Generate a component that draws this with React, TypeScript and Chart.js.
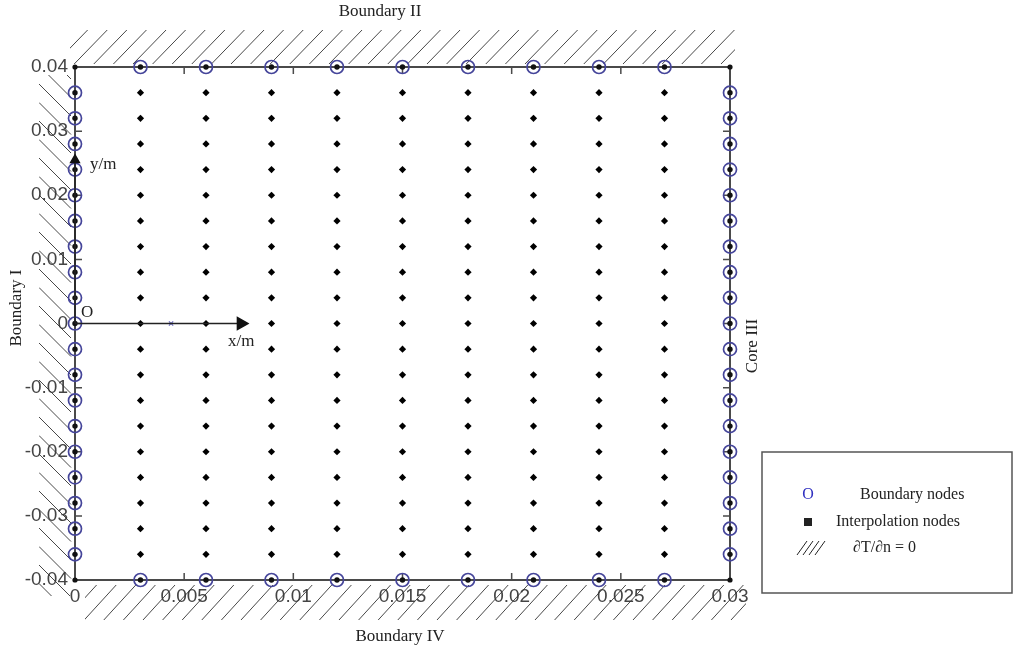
import React, { useEffect, useRef } from "react";
import { Chart, registerables } from "chart.js";

Chart.register(...registerables);

// Node coordinates (m)
const xNodes = [0, 0.003, 0.006, 0.009, 0.012, 0.015, 0.018, 0.021, 0.024, 0.027, 0.03];
const yNodes = [
  -0.04, -0.036, -0.032, -0.028, -0.024, -0.02, -0.016, -0.012, -0.008, -0.004, 0,
  0.004, 0.008, 0.012, 0.016, 0.02, 0.024, 0.028, 0.032, 0.036, 0.04,
];
const xTickValues = [0, 0.005, 0.01, 0.015, 0.02, 0.025, 0.03];
const xTickLabels = ["0", "0.005", "0.01", "0.015", "0.02", "0.025", "0.03"];
const yTickValues = [-0.04, -0.03, -0.02, -0.01, 0, 0.01, 0.02, 0.03, 0.04];
const yTickLabels = ["-0.04", "-0.03", "-0.02", "-0.01", "0", "0.01", "0.02", "0.03", "0.04"];
const crossMarker = [{ x: 0.0044, y: 0 }];
const xArrow = [{ x: 0, y: 0 }, { x: 0.0076, y: 0 }];
const yArrow = [{ x: 0, y: 0 }, { x: 0, y: 0.0255 }];

const xMin = xNodes[0];
const xMax = xNodes[xNodes.length - 1];
const yMin = yNodes[0];
const yMax = yNodes[yNodes.length - 1];

const innerX = xNodes.slice(1, -1);
const innerY = yNodes.slice(1, -1);

const interiorPts: { x: number; y: number }[] = [];
innerX.forEach((x) => innerY.forEach((y) => interiorPts.push({ x, y })));

const boundaryPts: { x: number; y: number }[] = [];
innerX.forEach((x) => {
  boundaryPts.push({ x, y: yMax });
  boundaryPts.push({ x, y: yMin });
});
innerY.forEach((y) => {
  boundaryPts.push({ x: xMin, y });
  boundaryPts.push({ x: xMax, y });
});
const cornerPts = [
  { x: xMin, y: yMin },
  { x: xMin, y: yMax },
  { x: xMax, y: yMin },
  { x: xMax, y: yMax },
];

const SERIF = "'Liberation Serif', 'Times New Roman', serif";

const decorPlugin = {
  id: "decor",
  beforeDatasetsDraw(chart: any) {
    const ctx = chart.ctx;
    const { left, right, top, bottom } = chart.chartArea;
    const xs = chart.scales.x;
    const ys = chart.scales.y;
    ctx.save();
    // hatching
    ctx.strokeStyle = "#333";
    ctx.lineWidth = 0.9;
    // top: "/"
    ctx.save();
    ctx.beginPath();
    ctx.rect(left - 5, top - 37, right - left + 10, 34);
    ctx.clip();
    ctx.beginPath();
    for (let x0 = left - 40; x0 < right + 10; x0 += 19.6) {
      ctx.moveTo(x0, top - 3);
      ctx.lineTo(x0 + 34, top - 38);
    }
    ctx.stroke();
    ctx.restore();
    // left: "\"
    ctx.save();
    ctx.beginPath();
    ctx.rect(left - 36, top + 8, 33, bottom - top + 8);
    ctx.clip();
    ctx.beginPath();
    for (let y0 = top - 20; y0 < bottom + 20; y0 += 18.5) {
      ctx.moveTo(left - 36, y0);
      ctx.lineTo(left - 4, y0 + 32);
    }
    ctx.stroke();
    ctx.restore();
    // bottom: "/"
    ctx.save();
    ctx.beginPath();
    ctx.rect(left + 10, bottom + 4, right - left + 6, 37);
    ctx.clip();
    ctx.beginPath();
    for (let x0 = left - 30; x0 < right + 30; x0 += 19.6) {
      ctx.moveTo(x0, bottom + 40);
      ctx.lineTo(x0 + 32, bottom + 5);
    }
    ctx.stroke();
    ctx.restore();

    // box
    ctx.strokeStyle = "#4a4a4a";
    ctx.lineWidth = 2;
    ctx.strokeRect(left, top, right - left, bottom - top);
    // inward ticks
    ctx.lineWidth = 1.5;
    ctx.beginPath();
    xTickValues.forEach((v) => {
      const px = xs.getPixelForValue(v);
      ctx.moveTo(px, bottom);
      ctx.lineTo(px, bottom - 7);
      ctx.moveTo(px, top);
      ctx.lineTo(px, top + 7);
    });
    yTickValues.forEach((v) => {
      const py = ys.getPixelForValue(v);
      ctx.moveTo(left, py);
      ctx.lineTo(left + 7, py);
      ctx.moveTo(right, py);
      ctx.lineTo(right - 7, py);
    });
    ctx.stroke();
    ctx.restore();
  },
  afterDraw(chart: any) {
    const ctx = chart.ctx;
    ctx.save();
    ctx.fillStyle = "#222";
    ctx.font = `17px ${SERIF}`;
    ctx.textBaseline = "middle";
    ctx.textAlign = "center";
    ctx.fillText("Boundary II", 380, 12);
    ctx.fillText("Boundary IV", 400, 637);
    ctx.save();
    ctx.translate(17, 308);
    ctx.rotate(-Math.PI / 2);
    ctx.fillText("Boundary I", 0, 0);
    ctx.restore();
    ctx.save();
    ctx.translate(753, 346);
    ctx.rotate(-Math.PI / 2);
    ctx.fillText("Core III", 0, 0);
    ctx.restore();
    ctx.textAlign = "left";
    ctx.fillText("O", 81, 313);
    ctx.fillText("y/m", 90, 165);
    ctx.fillText("x/m", 228, 342);

    // legend box
    ctx.strokeStyle = "#555";
    ctx.lineWidth = 1.5;
    ctx.strokeRect(762, 452, 250, 141);
    ctx.font = `16px ${SERIF}`;
    ctx.fillStyle = "#3030c0";
    ctx.textAlign = "center";
    ctx.fillText("O", 808, 495);
    ctx.fillStyle = "#222";
    ctx.textAlign = "left";
    ctx.fillText("Boundary nodes", 860, 495);
    ctx.fillRect(804, 518, 8, 8);
    ctx.fillText("Interpolation nodes", 836, 522);
    ctx.fillText("\u2202T/\u2202n = 0", 853, 548);
    ctx.strokeStyle = "#222";
    ctx.lineWidth = 1;
    ctx.beginPath();
    for (let i = 0; i < 4; i++) {
      const x0 = 797 + i * 6;
      ctx.moveTo(x0, 555);
      ctx.lineTo(x0 + 10, 541);
    }
    ctx.stroke();
    ctx.restore();
  },
};

export default function App() {
  const ref = useRef<HTMLCanvasElement | null>(null);
  useEffect(() => {
    if (!ref.current) return;
    const tickFont = { family: "'Liberation Sans', Arial, sans-serif", size: 19 };
    const chart = new Chart(ref.current, {
      type: "scatter",
      data: {
        datasets: [
          {
            label: "x axis",
            data: xArrow,
            showLine: true,
            borderColor: "#222",
            borderWidth: 1.5,
            pointRadius: [0, 7],
            pointStyle: "triangle",
            rotation: 90,
            pointBackgroundColor: "#111",
            pointBorderColor: "#111",
            clip: false,
          } as any,
          {
            label: "y axis",
            data: yArrow,
            showLine: true,
            borderColor: "#222",
            borderWidth: 1.5,
            pointRadius: [0, 5],
            pointStyle: "triangle",
            rotation: 0,
            pointBackgroundColor: "#111",
            pointBorderColor: "#111",
            clip: false,
          } as any,
          {
            label: "Interpolation nodes",
            data: interiorPts,
            pointStyle: "rectRot",
            pointRadius: 3.6,
            pointBackgroundColor: "#000",
            pointBorderColor: "#000",
            pointBorderWidth: 0,
            clip: false,
          } as any,
          {
            label: "Boundary nodes",
            data: boundaryPts,
            pointStyle: "circle",
            pointRadius: 6.5,
            pointBackgroundColor: "rgba(255,255,255,0)",
            pointBorderColor: "#45459a",
            pointBorderWidth: 1.7,
            clip: false,
          } as any,
          {
            label: "Boundary centres",
            data: boundaryPts,
            pointStyle: "circle",
            pointRadius: 2.7,
            pointBackgroundColor: "#111",
            pointBorderColor: "#111",
            pointBorderWidth: 0,
            clip: false,
          } as any,
          {
            label: "Corners",
            data: cornerPts,
            pointStyle: "circle",
            pointRadius: 2.6,
            pointBackgroundColor: "#111",
            pointBorderColor: "#111",
            pointBorderWidth: 0,
            clip: false,
          } as any,
          {
            label: "marker",
            data: crossMarker,
            pointStyle: "crossRot",
            pointRadius: 3,
            pointBorderColor: "#6a6ac0",
            pointBorderWidth: 1.2,
            clip: false,
          } as any,
        ],
      },
      options: {
        animation: false,
        responsive: false,
        devicePixelRatio: 1,
        layout: { padding: { left: 0, top: 67, right: 283, bottom: 0 } },
        plugins: {
          legend: { display: false },
          tooltip: { enabled: false },
          title: { display: false },
        },
        scales: {
          x: {
            type: "linear",
            min: xMin,
            max: xMax,
            afterFit: (s: any) => {
              s.height = 73;
            },
            afterBuildTicks: (s: any) => {
              s.ticks = xTickValues.map((v) => ({ value: v }));
            },
            grid: { display: false, drawTicks: false },
            border: { display: false },
            ticks: {
              padding: 5,
              color: "#444",
              font: tickFont,
              maxRotation: 0,
              autoSkip: false,
              callback: (_v: any, i: number) => xTickLabels[i],
            },
          },
          y: {
            type: "linear",
            min: yMin,
            max: yMax,
            afterFit: (s: any) => {
              s.width = 75;
            },
            afterBuildTicks: (s: any) => {
              s.ticks = yTickValues.map((v) => ({ value: v }));
            },
            grid: { display: false, drawTicks: false },
            border: { display: false },
            ticks: {
              padding: 7,
              color: "#444",
              font: tickFont,
              autoSkip: false,
              callback: (_v: any, i: number) => yTickLabels[i],
            },
          },
        },
      } as any,
      plugins: [decorPlugin],
    });
    return () => chart.destroy();
  }, []);
  return (
    <div style={{ position: "absolute", left: 0, top: 0, width: 1013, height: 653, background: "#fff" }}>
      <canvas ref={ref} width={1013} height={653} style={{ display: "block" }} />
    </div>
  );
}
